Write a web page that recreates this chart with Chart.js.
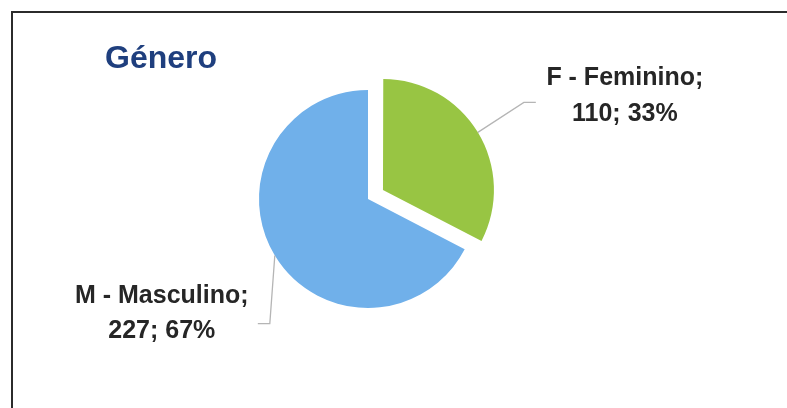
<!DOCTYPE html>
<html>
<head>
<meta charset="utf-8">
<title>Género</title>
<script src="https://cdn.jsdelivr.net/npm/chart.js@4/dist/chart.umd.min.js"></script>
<style>
  html, body {
    margin: 0;
    padding: 0;
    background: #ffffff;
  }
  #wrap {
    position: relative;
    width: 787px;
    height: 408px;
    overflow: hidden;
  }
  #frame {
    position: absolute;
    left: 11px;
    top: 11px;
    width: 800px;
    height: 420px;
    border-top: 2px solid #2b2b2b;
    border-left: 2px solid #2b2b2b;
  }
  #pie {
    position: absolute;
    left: 0;
    top: 0;
  }
</style>
</head>
<body>
<div id="wrap">
  <div id="frame"></div>
  <canvas id="pie" width="787" height="408"></canvas>
</div>
<script>
const chartTitle = 'Género';
const categories = ['F - Feminino', 'M - Masculino'];
const counts = [110, 227];
const percents = [33, 67];
const sliceColors = ['#98c543', '#70b0ea'];
// chart.js arc offset (it moves the slice by roughly a quarter of this)
const sliceOffsets = [70, 0];

// leader line + label placement, relative to the slice edge point
const labelLayout = [
  { elbow: [46, -30], end: [12, 0], textDx: 89, lineDy: [-17, 19] },
  { elbow: [-5, 68], end: [-12, 0], textDx: -96, lineDy: [-21, 14] }
];

// same shift the arc element applies when it draws with an offset
const explodeShift = (offset, circumference) =>
  (offset / 4) * (2 - Math.sin(Math.min(Math.PI, circumference)));

const sliceLabels = {
  id: 'sliceLabels',
  afterDatasetsDraw(chart) {
    const ctx = chart.ctx;
    const meta = chart.getDatasetMeta(0);
    ctx.save();

    // title
    ctx.font = 'bold 32px "Liberation Sans", Arial, sans-serif';
    ctx.fillStyle = '#1f3f7e';
    ctx.textAlign = 'left';
    ctx.textBaseline = 'alphabetic';
    ctx.fillText(chartTitle, 105, 68);

    meta.data.forEach((arc, i) => {
      const p = arc.getProps(['x', 'y', 'startAngle', 'endAngle', 'outerRadius', 'circumference'], true);
      const mid = (p.startAngle + p.endAngle) / 2;
      const r = p.outerRadius + (sliceOffsets[i] ? explodeShift(sliceOffsets[i], p.circumference) : 0);
      const ex = p.x + Math.cos(mid) * r;
      const ey = p.y + Math.sin(mid) * r;
      const lay = labelLayout[i];
      const bx = ex + lay.elbow[0], by = ey + lay.elbow[1];
      const tx = bx + lay.end[0], ty = by + lay.end[1];

      ctx.strokeStyle = '#b5b5b5';
      ctx.lineWidth = 1.3;
      ctx.beginPath();
      ctx.moveTo(ex, ey);
      ctx.lineTo(bx, by);
      ctx.lineTo(tx, ty);
      ctx.stroke();

      ctx.font = 'bold 25px "Liberation Sans", Arial, sans-serif';
      ctx.fillStyle = '#262626';
      ctx.textAlign = 'center';
      const cx = tx + lay.textDx;
      ctx.fillText(categories[i] + ';', cx, ty + lay.lineDy[0]);
      ctx.fillText(counts[i] + '; ' + percents[i] + '%', cx, ty + lay.lineDy[1]);
    });
    ctx.restore();
  }
};

new Chart(document.getElementById('pie'), {
  type: 'pie',
  data: {
    labels: categories,
    datasets: [{
      data: counts,
      backgroundColor: sliceColors,
      borderWidth: 0,
      offset: sliceOffsets,
      hoverOffset: 0
    }]
  },
  options: {
    responsive: false,
    animation: false,
    radius: 109,
    layout: {
      padding: { left: 258, right: 309, top: 89, bottom: 99 }
    },
    plugins: {
      legend: { display: false },
      tooltip: { enabled: false },
      title: { display: false }
    }
  },
  plugins: [sliceLabels]
});
</script>
</body>
</html>
